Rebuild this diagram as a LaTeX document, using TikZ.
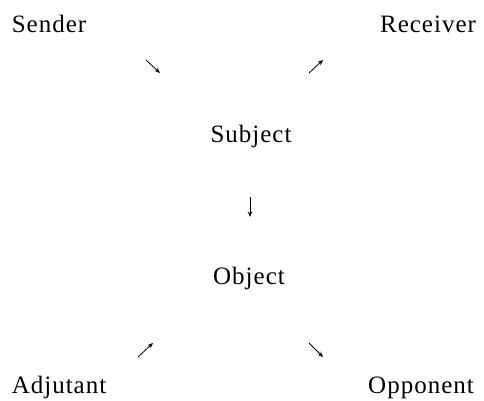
\documentclass[tikz,border=0pt]{standalone}
\usepackage{fontspec}
\setmainfont[LetterSpace=4]{Liberation Serif}
\usetikzlibrary{arrows.meta}

\begin{document}
\begin{tikzpicture}[x=1pt,y=-1pt,>={Stealth[length=5.5pt,width=4.5pt]},
		actant/.style={anchor=base,inner sep=0pt,font=\fontsize{25}{30}\selectfont}]
		\useasboundingbox (0,0) rectangle (484,401);

		\node[actant] (sender) at (49,33) {Sender};
		\node[actant] (receiver) at (428,33) {Receiver};
		\node[actant] (subject) at (251,142) {Subject};
		\node[actant] (object) at (249,284) {Object};
		\node[actant] (adjutant) at (59,393) {Adjutant};
		\node[actant] (opponent) at (421,393) {Opponent};

		% short arrows between the actants
		\coordinate (s1) at (146,60);  \coordinate (s2) at (160,73);
		\coordinate (r1) at (309,73);  \coordinate (r2) at (323,60);
		\coordinate (o1) at (250,197); \coordinate (o2) at (250,217);
		\coordinate (a1) at (138,357); \coordinate (a2) at (153,343);
		\coordinate (p1) at (309,343); \coordinate (p2) at (323,357);

		\foreach \from/\to in {s1/s2,r1/r2,o1/o2,a1/a2,p1/p2}
			\draw[->,line width=0.8pt] (\from) -- (\to);
	\end{tikzpicture}
\end{document}
